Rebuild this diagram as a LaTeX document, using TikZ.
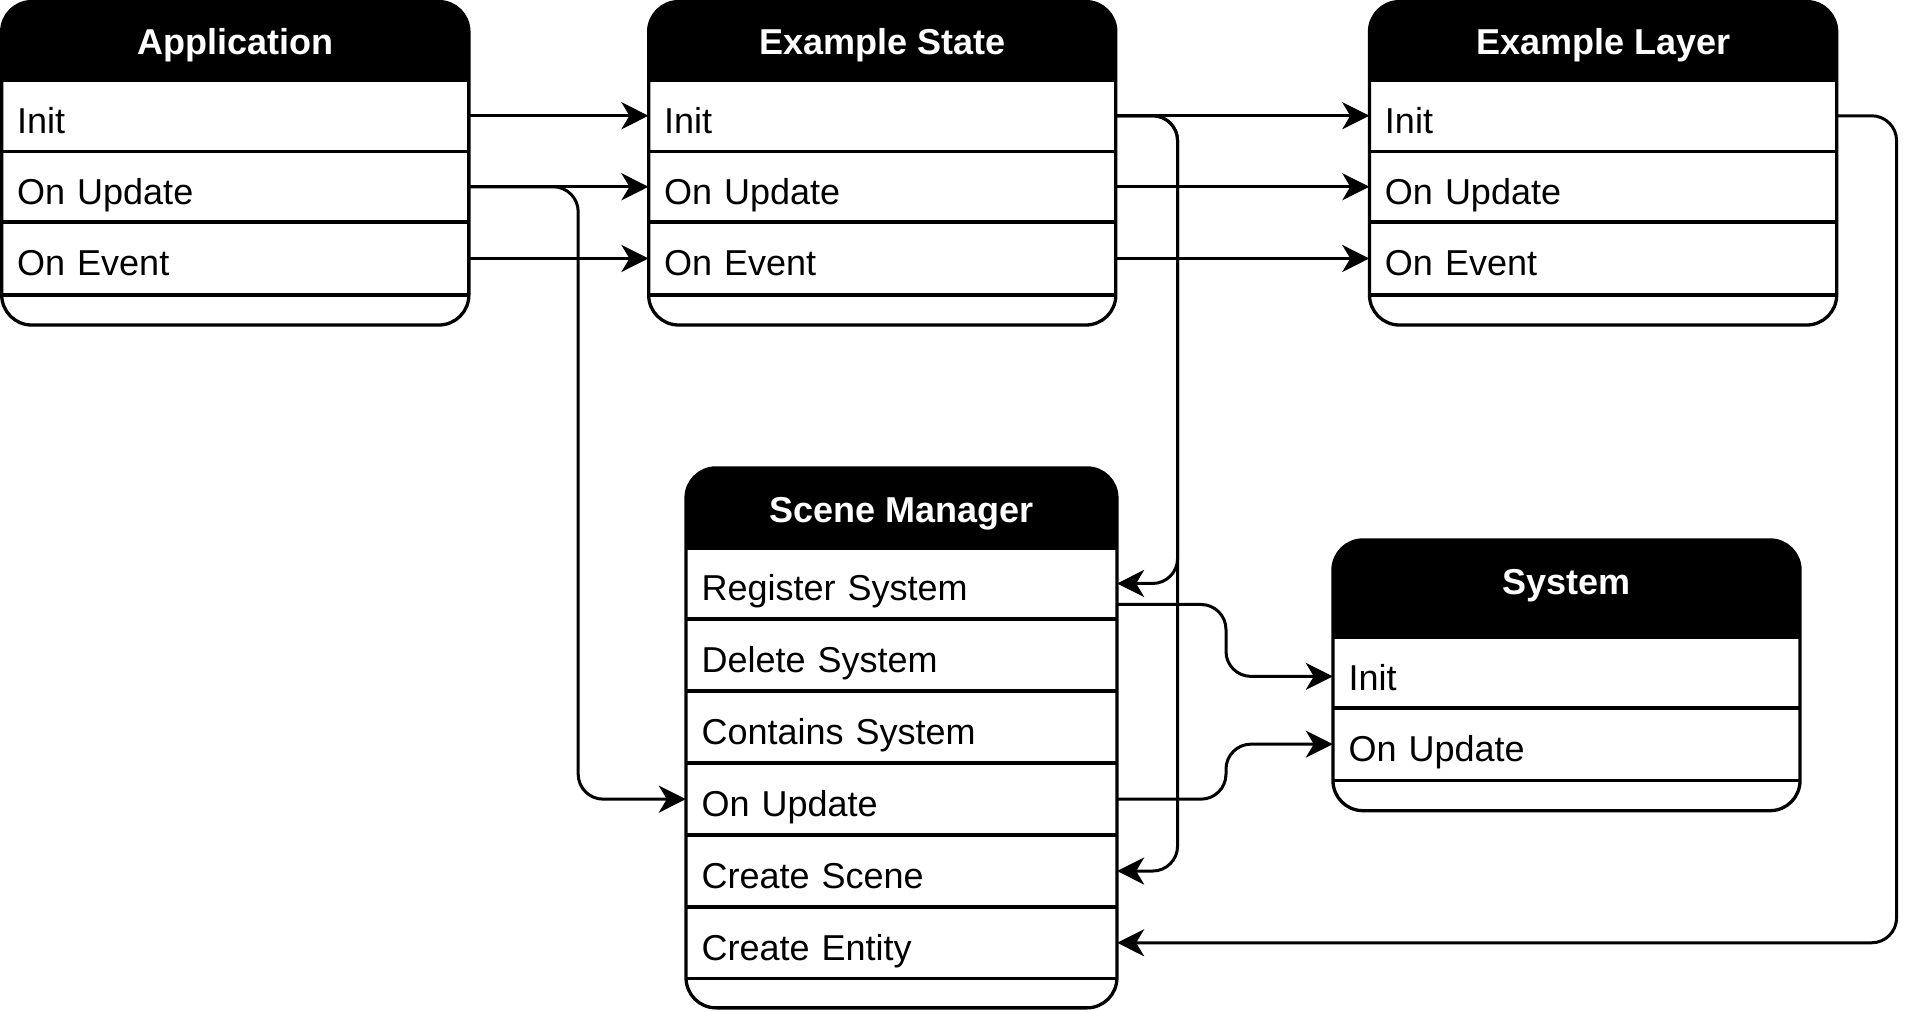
\documentclass[tikz,border=0pt]{standalone}
\usepackage{fontspec}
\setmainfont{Liberation Sans}
\usetikzlibrary{arrows.meta}
% #1 x1, #2 x2, #3 top, #4 header bottom, #5 bottom, #6 separators
\newcommand{\umlbox}[6]{%
  \begin{scope}
    \clip (#1,#3) rectangle (#2,#4);
    \fill[hdrfill, rounded corners=30pt] (#1,#3) rectangle (#2,#5);
  \end{scope}
  \draw[boxline, rounded corners=30pt] (#1,#3) rectangle (#2,#5);
  \foreach \yy in {#6} {\draw[sepline] (#1,\yy) -- (#2,\yy);}
}
\begin{document}
\begin{tikzpicture}[x=1.2255pt,y=-1.2255pt,
  hdrfill/.style={fill=black},
  boxline/.style={draw=black, line width=3.3pt},
  sepline/.style={draw=black, line width=3.6pt},
  conn/.style={draw=black, line width=3pt, rounded corners=25pt,
    -{Stealth[length=27pt,width=27pt,inset=8pt]}},
  row/.style={inner xsep=15.5pt, inner ysep=0pt, text height=42pt, text depth=7pt,
    align=left, font=\fontsize{36pt}{43pt}\selectfont, text width=#1},
  hdrtitle/.style={inner sep=0pt, text height=25.8pt, text depth=0pt, text=white,
    font=\fontsize{36pt}{43pt}\selectfont\bfseries}]
\useasboundingbox (0,0) rectangle (1569.16,824.97);

% ---- boxes ----
\umlbox{1.4}{382.6}{1.3}{65.3}{265.2}{65.3,123.6,181.2,240.6}
\umlbox{529.3}{910.5}{1.3}{65.3}{265.2}{65.3,123.6,181.2,240.6}
\umlbox{1117.5}{1498.7}{1.3}{65.3}{265.2}{65.3,123.6,181.2,240.6}
\umlbox{559.8}{911.4}{381.8}{447.3}{822.4}{447.3,504.9,563.9,622.8,681.4,740.1,798.5}
\umlbox{1087.7}{1468.8}{440.6}{520.2}{661.5}{520.2,577.6,636.8}

% ---- titles ----
\node[hdrtitle] (appT) at (192,34.0) {Application};
\node[hdrtitle] (esT) at (719.9,34.0) {Example State};
\node[hdrtitle] (elT) at (1308.1,34.0) {Example Layer};
\node[hdrtitle] (smT) at (735.6,415.5) {Scene Manager};
\node[hdrtitle] (sysT) at (1278.25,474.3) {System};

% ---- rows ----
\node[row=436.2pt] (appInit) at (192,94.45) {Init};
\node[row=436.2pt] (appUpd)  at (192,152.4) {On Update};
\node[row=436.2pt] (appEvt)  at (192,210.9) {On Event};

\node[row=436.2pt] (esInit) at (719.9,94.45) {Init};
\node[row=436.2pt] (esUpd)  at (719.9,152.4) {On Update};
\node[row=436.2pt] (esEvt)  at (719.9,210.9) {On Event};

\node[row=436.2pt] (elInit) at (1308.1,94.45) {Init};
\node[row=436.2pt] (elUpd)  at (1308.1,152.4) {On Update};
\node[row=436.2pt] (elEvt)  at (1308.1,210.9) {On Event};

\node[row=399.9pt] (smReg)   at (735.6,476.1) {Register System};
\node[row=399.9pt] (smDel)   at (735.6,534.4) {Delete System};
\node[row=399.9pt] (smCont)  at (735.6,593.35) {Contains System};
\node[row=399.9pt] (smUpd)   at (735.6,652.1) {On Update};
\node[row=399.9pt] (smScene) at (735.6,710.75) {Create Scene};
\node[row=399.9pt] (smEnt)   at (735.6,769.3) {Create Entity};

\node[row=436pt] (sysInit) at (1278.25,548.9) {Init};
\node[row=436pt] (sysUpd)  at (1278.25,607.2) {On Update};

% ---- bus coordinates ----
\coordinate (busA) at (471.8,0);
\coordinate (busB) at (960.9,0);
\coordinate (busC) at (1000.4,0);
\coordinate (busD) at (1547.6,0);

% ---- connectors ----
\draw[conn] (appInit.east) -- (esInit.west);
\draw[conn] (appUpd.east) -- (esUpd.west);
\draw[conn] (appEvt.east) -- (esEvt.west);
\draw[conn] (appUpd.east) -- (appUpd.east -| busA) |- (smUpd.west);

\draw[conn] (esInit.east) -- (elInit.west);
\draw[conn] (esUpd.east) -- (elUpd.west);
\draw[conn] (esEvt.east) -- (elEvt.west);
\draw[conn] (esInit.east) -- (esInit.east -| busB) |- (smReg.east);
\draw[conn] (esInit.east) -- (esInit.east -| busB) |- (smScene.east);

\draw[conn] (elInit.east) -- (elInit.east -| busD) |- (smEnt.east);

\draw[conn] ([yshift=-21pt]smReg.east) -- ([yshift=-21pt]smReg.east -| busC) |- ([yshift=-3.7pt]sysInit.west);
\draw[conn] (smUpd.east) -- (smUpd.east -| busC) |- (sysUpd.west);
\end{tikzpicture}
\end{document}
